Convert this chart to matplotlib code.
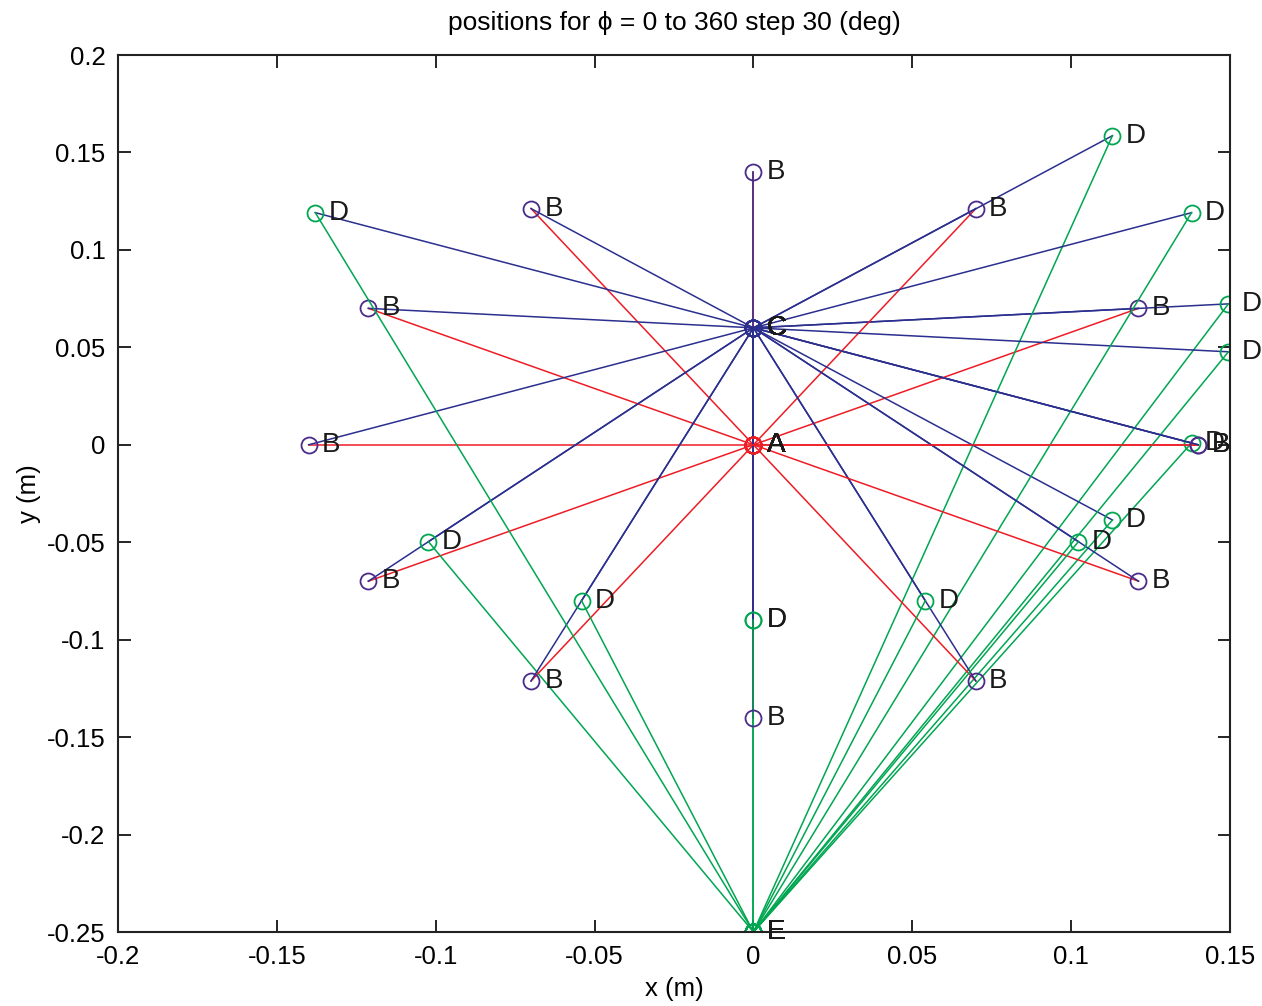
import numpy as np
import matplotlib
matplotlib.use("Agg")
import matplotlib.pyplot as plt

plt.rcParams["font.family"] = ["Liberation Sans", "DejaVu Sans"]

# crank angles (deg)
phi_deg = [0, 30, 60, 90, 120, 150, 180, 210, 240, 270, 300, 330, 360]

# fixed joints
A = (0.0, 0.0)
C = (0.0, 0.06)
E = (0.0, -0.25)

# crank tip B for each angle
B_x = [0.14, 0.1212, 0.07, 0.0, -0.07, -0.1212, -0.14, -0.1212, -0.07, 0.0, 0.07, 0.1212, 0.14]
B_y = [0.0, 0.07, 0.1212, 0.14, 0.1212, 0.07, 0.0, -0.07, -0.1212, -0.14, -0.1212, -0.07, 0.0]

# point D on the rocker through C
D_x = [0.1379, 0.1495, 0.1130, 0.0, 0.1130, 0.1495, 0.1379, -0.1023, -0.0541, 0.0, 0.0541, 0.1023, -0.1379]
D_y = [0.0009, 0.0723, 0.1586, -0.09, -0.0386, 0.0477, 0.1191, -0.0497, -0.0800, -0.09, -0.0800, -0.0497, 0.1191]

red = "#ee1c25"
blue = "#2b2f8e"
green = "#00a651"
purple = "#4a2b8a"

fig = plt.figure(figsize=(12.62, 10.06), dpi=100)
ax = fig.add_axes([118 / 1262, 1 - 932 / 1006, (1230 - 118) / 1262, (932 - 55) / 1006])

ms = 11.5
lw = 1.1
dx = 0.0042
for i in range(len(phi_deg)):
    bx, by = B_x[i], B_y[i]
    dxx, dyy = D_x[i], D_y[i]
    ax.plot([A[0], bx], [A[1], by], "-", color=red, lw=lw)
    ax.plot(A[0], A[1], "o", mfc="none", mec=red, ms=ms, mew=1.3)
    ax.plot([bx, C[0]], [by, C[1]], "-", color=blue, lw=lw)
    ax.plot([C[0], dxx], [C[1], dyy], "-", color=blue, lw=lw)
    ax.plot([dxx, E[0]], [dyy, E[1]], "-", color=green, lw=lw)
    ax.plot(bx, by, "o", mfc="none", mec=purple, ms=ms, mew=1.3)
    ax.plot(C[0], C[1], "o", mfc="none", mec=blue, ms=ms, mew=1.3)
    ax.plot(dxx, dyy, "o", mfc="none", mec=green, ms=ms, mew=1.3)
    ax.plot(E[0], E[1], "o", mfc="none", mec=green, ms=ms, mew=1.3)

    for name, (px, py) in [("A", A), ("B", (bx, by)), ("C", C), ("D", (dxx, dyy)), ("E", E)]:
        ax.text(px + dx, py, name, fontsize=20, ha="left", va="center", color="#1a1a1a")

ax.set_xlim(-0.2, 0.15)
ax.set_ylim(-0.25, 0.2)
ax.set_xticks(np.arange(-0.2, 0.1501, 0.05))
ax.set_xticklabels(["-0.2", "-0.15", "-0.1", "-0.05", "0", "0.05", "0.1", "0.15"])
ax.set_yticks(np.arange(-0.25, 0.2001, 0.05))
ax.set_yticklabels(["-0.25", "-0.2", "-0.15", "-0.1", "-0.05", "0", "0.05", "0.1", "0.15", "0.2"])
ax.tick_params(direction="in", length=9, width=1.2, labelsize=18.5, top=True, right=True, pad=9)
for s in ax.spines.values():
    s.set_linewidth(1.5)
    s.set_color("#222222")

ax.set_xlabel("x (m)", fontsize=18.5, labelpad=6)
ax.set_ylabel("y (m)", fontsize=18.5, labelpad=4)
ax.set_title("positions for \u03d5 = 0 to 360 step 30 (deg)", fontsize=19, pad=18)

fig.savefig("out.png", dpi=100)
